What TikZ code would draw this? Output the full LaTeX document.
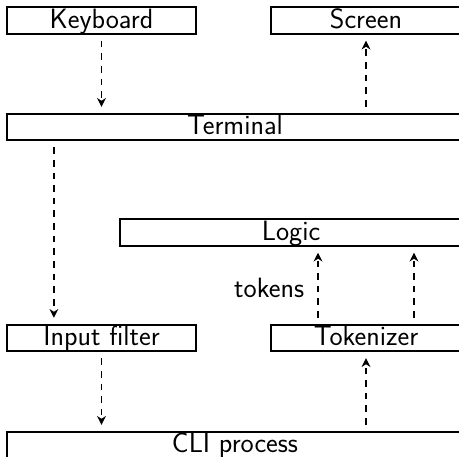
\documentclass[tikz,border=0pt]{standalone}
\usetikzlibrary{calc,arrows.meta}
\begin{document}
\begin{tikzpicture}[
        box/.style={draw, line width=1.1pt, rectangle, inner xsep=0pt, inner ysep=0pt,
            text height=12.1pt, text depth=3pt,
            font=\sffamily\fontsize{15.9}{19}\selectfont},
        flow/.style={-{Stealth[length=5pt, width=5pt, inset=1.6pt]}, line width=1.1pt,
            dash pattern=on 3.8pt off 3.4pt, shorten >=3.4pt, shorten <=3.4pt}]
            \useasboundingbox (0,0) rectangle (9.18,9.12);
            \clip (0,0) rectangle (9.18,9.12);
            \node [box, minimum width=3.77cm] (kbd) at(2.03,8.71) {Keyboard};
            \node [box, minimum width=3.8cm] (screen) at(7.32,8.71) {Screen};
            \node [box, minimum width=9.12cm] (term) at(4.70,6.58) {Terminal};
            \node [box, minimum width=6.84cm] (logic) at(5.82,4.47) {Logic};
            \node [box, minimum width=3.77cm] (filter) at(2.03,2.36) {Input filter};
            \node [box, minimum width=3.8cm] (tok) at(7.32,2.36) {Tokenizer};
            \node [box, minimum width=9.12cm] (cli) at(4.70,0.22) {CLI process};
            % quarter points on the tops of the lower boxes
            \coordinate (filterin) at ($(filter.north west)!0.25!(filter.north east)$);
            \coordinate (tokout1) at ($(tok.north west)!0.25!(tok.north east)$);
            \coordinate (tokout2) at ($(tok.north west)!0.75!(tok.north east)$);
            \draw [flow] (kbd.south) -- (kbd.south |- term.north);
            \draw [flow] (screen.south |- term.north) -- (screen.south);
            \draw [flow] (filterin |- term.south) -- (filterin);
            \draw [flow] (filter.south) -- (filter.south |- cli.north);
            \draw [flow] (tok.south |- cli.north) -- (tok.south);
            \draw [flow] (tokout1) -- (tokout1 |- logic.south)
                node [midway, left=4pt, yshift=-1.5pt, font=\sffamily\fontsize{15.9}{19}\selectfont] (tokens) {tokens};
            \draw [flow] (tokout2) -- (tokout2 |- logic.south);
        \end{tikzpicture}
\end{document}
